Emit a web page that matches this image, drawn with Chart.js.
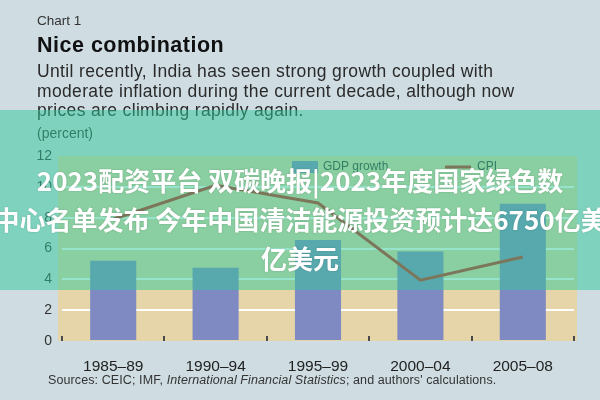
<!DOCTYPE html>
<html>
<head>
<meta charset="utf-8">
<script src="https://cdn.jsdelivr.net/npm/chart.js@4"></script>
<style>
  html, body { margin: 0; padding: 0; }
  body {
    width: 600px; height: 400px; position: relative; overflow: hidden;
    background: #cfdde3; color: #222;
    font-family: "Liberation Sans", Arial, sans-serif;
  }
  #chart { position: absolute; left: 0; top: 0; }
  .txt { position: absolute; left: 37px; white-space: nowrap; line-height: 1; }
  #label { top: 14px; font-size: 13.5px; color: #333; }
  #title { top: 35px; font-size: 21.5px; letter-spacing: 0.5px; font-weight: bold; color: #111; }
  #lede { top: 62px; font-size: 17.5px; letter-spacing: 0.35px; line-height: 19.5px; color: #2a2a2a; }
  #unit { top: 126px; font-size: 14px; color: #333; }
  #source { top: 374px; left: 48px; font-size: 12.5px; letter-spacing: 0.1px; color: #333; }
  #banner {
    position: absolute; left: 0; top: 110px; width: 600px; height: 180px;
    background: rgba(48, 202, 153, 0.5); z-index: 5;
  }
  .line {
    position: absolute; left: 0; width: 600px; height: 39px;
    display: flex; justify-content: center; align-items: center;
    white-space: nowrap; color: #fff; font-weight: bold; font-size: 26px;
    font-family: "Noto Sans CJK SC", "Noto Sans", sans-serif;
    text-shadow: 0 0 2px rgba(0, 0, 0, 0.2);
  }
</style>
</head>
<body>
<canvas id="chart" width="600" height="400"></canvas>
<div class="txt" id="label">Chart 1</div>
<div class="txt" id="title">Nice combination</div>
<div class="txt" id="lede">Until recently, India has seen strong growth coupled with<br>moderate inflation during the current decade, although now<br>prices are climbing rapidly again.</div>
<div class="txt" id="unit">(percent)</div>
<div class="txt" id="source">Sources: CEIC; IMF, <i>International Financial Statistics</i>; and authors' calculations.</div>
<div id="banner">
  <div class="line" style="top:50px">2023配资平台 双碳晚报|2023年度国家绿色数</div>
  <div class="line" style="top:89px">中心名单发布 今年中国清洁能源投资预计达6750亿美</div>
  <div class="line" style="top:128px">亿美元</div>
</div>
<script>
const periods = ["1985–89", "1990–94", "1995–99", "2000–04", "2005–08"];
const gdpGrowth = [5.2, 4.75, 6.55, 5.8, 8.9];
const cpi = [7.9, 10.1, 8.95, 3.95, 5.45];
const yTicks = [0, 2, 4, 6, 8, 10, 12];

const BAR_COLOR = "#7f89c2";
const LINE_COLOR = "#c8231c";
const PANEL_COLOR = "#e5d5a8";

// beige panel behind the plot, slightly wider than the category range
const panel = {
  id: "panel",
  beforeDraw(chart) {
    const { ctx, chartArea: a } = chart;
    ctx.save();
    ctx.fillStyle = PANEL_COLOR;
    ctx.fillRect(a.left - 4, a.top, a.width + 7, a.height);
    ctx.restore();
  },
  afterDatasetsDraw(chart) {
    const { ctx, chartArea: a } = chart;
    const x = chart.scales.x;
    const step = a.width / periods.length;
    ctx.save();
    ctx.strokeStyle = "#4a4a4a";
    ctx.lineWidth = 2;
    for (let i = 0; i <= periods.length; i++) {
      const px = Math.round(x.getPixelForValue(0) - step / 2 + i * step);
      ctx.beginPath();
      ctx.moveTo(px, a.bottom - 5);
      ctx.lineTo(px, a.bottom);
      ctx.stroke();
    }
    // legend
    const ly = a.top + 11;
    ctx.fillStyle = BAR_COLOR;
    ctx.fillRect(a.left + 230, ly - 6, 26, 12);
    ctx.strokeStyle = LINE_COLOR;
    ctx.lineWidth = 3;
    ctx.beginPath();
    ctx.moveTo(a.left + 383, ly);
    ctx.lineTo(a.left + 409, ly);
    ctx.stroke();
    ctx.fillStyle = "#333";
    ctx.font = '12px "Liberation Sans", Arial, sans-serif';
    ctx.textBaseline = "middle";
    ctx.fillText("GDP growth", a.left + 261, ly);
    ctx.fillText("CPI", a.left + 415, ly);
    ctx.restore();
  }
};

new Chart(document.getElementById("chart").getContext("2d"), {
  data: {
    labels: periods,
    datasets: [
      {
        type: "line",
        label: "CPI",
        data: cpi,
        borderColor: LINE_COLOR,
        borderWidth: 3,
        pointRadius: 0,
        tension: 0,
        order: 0
      },
      {
        type: "bar",
        label: "GDP growth",
        data: gdpGrowth,
        backgroundColor: BAR_COLOR,
        borderWidth: 0,
        categoryPercentage: 1,
        barPercentage: 0.45,
        order: 1
      }
    ]
  },
  options: {
    responsive: false,
    animation: false,
    devicePixelRatio: 1,
    layout: { padding: { top: 156, right: 26, bottom: 29, left: 0 } },
    plugins: {
      legend: { display: false },
      tooltip: { enabled: false }
    },
    scales: {
      x: {
        border: { display: false },
        grid: { display: false },
        ticks: {
          color: "#222",
          padding: 8,
          font: { family: '"Liberation Sans", Arial, sans-serif', size: 15.5 }
        },
        afterFit: (s) => { s.height = 30; }
      },
      y: {
        min: 0,
        max: 12,
        border: { display: false },
        afterBuildTicks: (s) => { s.ticks = yTicks.map((v) => ({ value: v })); },
        grid: {
          drawTicks: false,
          lineWidth: 2,
          color: (c) => (c.tick.value === 0 || c.tick.value === 12 ? "rgba(0,0,0,0)" : "#ffffff")
        },
        ticks: {
          color: "#333",
          padding: 10,
          font: { family: '"Liberation Sans", Arial, sans-serif', size: 14 }
        },
        afterFit: (s) => { s.width = 62; }
      }
    }
  },
  plugins: [panel]
});
</script>
</body>
</html>
